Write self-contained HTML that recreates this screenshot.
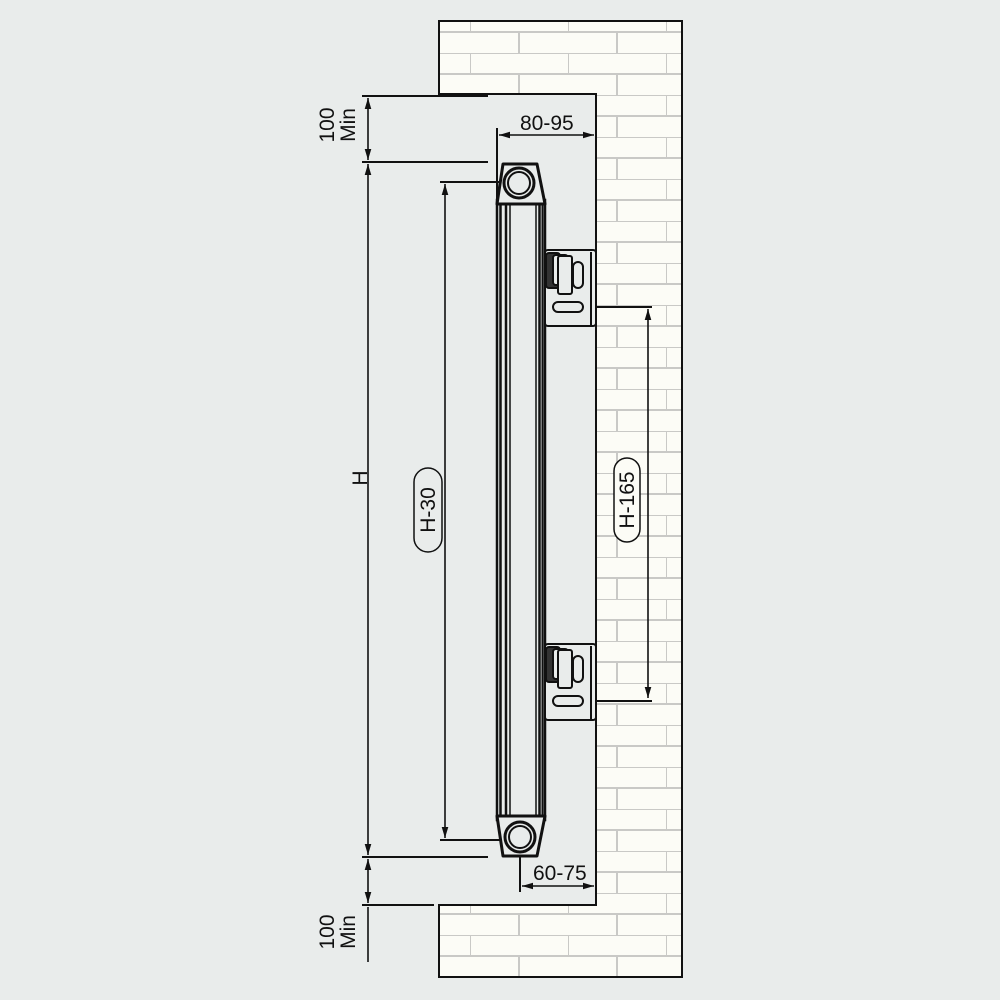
<!DOCTYPE html>
<html><head><meta charset="utf-8"><style>
html,body{margin:0;padding:0;background:#e9eceb;}
svg{display:block}
text{font-family:"Liberation Sans",sans-serif;fill:#111}
</style></head><body>
<svg width="1000" height="1000" viewBox="0 0 1000 1000" xmlns="http://www.w3.org/2000/svg">
<defs>
<pattern id="brick" x="470" y="11" width="98" height="42" patternUnits="userSpaceOnUse">
<rect width="98" height="42" fill="#fcfcf6"/>
<path d="M0 0H98M0 21H98M0 0V21M49 21V42" stroke="#c9c9c6" stroke-width="2" fill="none"/>
</pattern>
<marker id="a" viewBox="0 0 10 10" refX="10" refY="5" markerWidth="7" markerHeight="7" orient="auto-start-reverse"><path d="M0 2L10 5L0 8z" fill="#111"/></marker>
</defs>
<rect width="1000" height="1000" fill="#e9eceb"/>
<path d="M439 21H682V977H439V905H596V94H439Z" fill="url(#brick)" stroke="#111" stroke-width="2"/>
<g stroke="#111" stroke-width="2" fill="none">
<line x1="362" y1="96" x2="488" y2="96"/>
<line x1="362" y1="162" x2="488" y2="162"/>
<line x1="362" y1="857" x2="488" y2="857"/>
<line x1="362" y1="905" x2="434" y2="905"/>
<line x1="440" y1="182" x2="515" y2="182"/>
<line x1="440" y1="840" x2="515" y2="840"/>
<line x1="368" y1="98" x2="368" y2="160" marker-start="url(#a)" marker-end="url(#a)" stroke-width="1.6"/>
<line x1="368" y1="164" x2="368" y2="855" marker-start="url(#a)" marker-end="url(#a)" stroke-width="1.6"/>
<line x1="368" y1="859" x2="368" y2="903" marker-start="url(#a)" marker-end="url(#a)" stroke-width="1.6"/>
<line x1="368" y1="907" x2="368" y2="962" stroke-width="1.6"/>
<line x1="445" y1="184" x2="445" y2="838" marker-start="url(#a)" marker-end="url(#a)" stroke-width="1.6"/>
<line x1="648" y1="309" x2="648" y2="698" marker-start="url(#a)" marker-end="url(#a)" stroke-width="1.6"/>
<line x1="580" y1="307" x2="652" y2="307"/>
<line x1="580" y1="701" x2="652" y2="701"/>
<line x1="497" y1="128" x2="497" y2="205"/>
<line x1="499" y1="135" x2="594" y2="135" marker-start="url(#a)" marker-end="url(#a)" stroke-width="1.6"/>
<line x1="520" y1="845" x2="520" y2="892"/>
<line x1="522" y1="886" x2="594" y2="886" marker-start="url(#a)" marker-end="url(#a)" stroke-width="1.6"/>
</g>
<g stroke="#111" fill="#e9eceb">
<rect x="497" y="200" width="48" height="620" stroke-width="2.5"/>
<line x1="500.5" y1="200" x2="500.5" y2="820" stroke-width="2.5"/>
<line x1="506" y1="200" x2="506" y2="820" stroke-width="2.5"/>
<line x1="510" y1="200" x2="510" y2="820" stroke-width="1.5"/>
<line x1="536" y1="200" x2="536" y2="820" stroke-width="1.5"/>
<line x1="539.5" y1="200" x2="539.5" y2="820" stroke-width="2.5"/>
<line x1="542.5" y1="200" x2="542.5" y2="820" stroke-width="2"/>
<path d="M503 164H537L545 204H497Z" stroke-width="3" stroke-linejoin="round"/>
<circle cx="519" cy="183" r="15" stroke-width="3"/>
<circle cx="519" cy="183" r="11" stroke-width="2"/>
<path d="M497 816H545L537 856H503Z" stroke-width="3" stroke-linejoin="round"/>
<circle cx="520" cy="837" r="15" stroke-width="3"/>
<circle cx="520" cy="837" r="11" stroke-width="2"/>
<g stroke-width="2">
<rect x="545" y="250" width="51" height="76" rx="3"/>
<line x1="591" y1="252" x2="591" y2="325"/>
<rect x="546" y="253" width="14" height="35" rx="3" fill="#333"/>
<rect x="553" y="255" width="15" height="30" rx="3"/>
<rect x="558" y="256" width="14" height="38" rx="2"/>
<rect x="573" y="262" width="10" height="26" rx="5"/>
<rect x="553" y="302" width="30" height="10" rx="5"/>
<rect x="545" y="644" width="51" height="76" rx="3"/>
<line x1="591" y1="646" x2="591" y2="719"/>
<rect x="546" y="647" width="14" height="35" rx="3" fill="#333"/>
<rect x="553" y="649" width="15" height="30" rx="3"/>
<rect x="558" y="650" width="14" height="38" rx="2"/>
<rect x="573" y="656" width="10" height="26" rx="5"/>
<rect x="553" y="696" width="30" height="10" rx="5"/>
</g>
</g>
<text x="520" y="130" font-size="21">80-95</text>
<text x="533" y="880" font-size="21">60-75</text>
<g transform="translate(340,125) rotate(-90)"><text x="0" y="-6" font-size="21" text-anchor="middle">100</text><text x="0" y="15" font-size="21" text-anchor="middle">Min</text></g>
<g transform="translate(340,932) rotate(-90)"><text x="0" y="-6" font-size="21" text-anchor="middle">100</text><text x="0" y="15" font-size="21" text-anchor="middle">Min</text></g>
<g transform="translate(360,478) rotate(-90)"><text x="0" y="7" font-size="21" text-anchor="middle">H</text></g>
<g transform="translate(428,510) rotate(-90)"><rect x="-42" y="-14" width="84" height="28" rx="14" fill="#e9eceb" stroke="#111" stroke-width="1.5"/><text x="0" y="7" font-size="21" text-anchor="middle">H-30</text></g>
<g transform="translate(627,500) rotate(-90)"><rect x="-42" y="-13" width="84" height="26" rx="13" fill="#fcfcf6" stroke="#111" stroke-width="1.5"/><text x="0" y="7" font-size="21" text-anchor="middle">H-165</text></g>
</svg>
</body></html>
